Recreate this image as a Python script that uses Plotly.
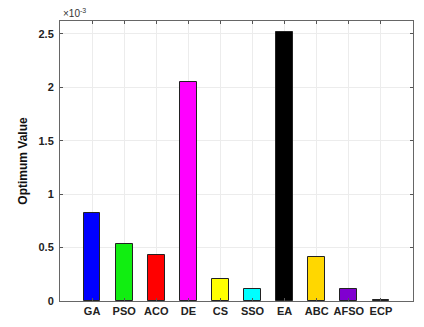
import plotly.graph_objects as go

categories = ["GA", "PSO", "ACO", "DE", "CS", "SSO", "EA", "ABC", "AFSO", "ECP"]
values = [0.82e-3, 0.53e-3, 0.43e-3, 2.05e-3, 0.21e-3, 0.11e-3, 2.52e-3, 0.41e-3, 0.11e-3, 0.01e-3]
colors = ["#0000ff", "#11ee11", "#ff0000", "#ff00ff", "#ffff00", "#00ffff", "#000000", "#ffd700", "#8000d0", "#202020"]
ytick_vals = [0, 0.5e-3, 1.0e-3, 1.5e-3, 2.0e-3, 2.5e-3]
ytick_text = ["0", "0.5", "1", "1.5", "2", "2.5"]

xpos = list(range(1, len(categories) + 1))

fig = go.Figure()
fig.add_trace(go.Bar(
    x=xpos, y=values, width=0.52,
    marker=dict(color=colors, line=dict(color="#222222", width=1)),
))

font_b = dict(family="Liberation Sans, Arial, sans-serif", size=11, color="#222222")

fig.update_layout(
    width=424, height=327,
    margin=dict(l=60, r=10, t=21, b=24),
    paper_bgcolor="white", plot_bgcolor="white",
    showlegend=False,
    bargap=0,
    xaxis=dict(
        range=[0, 11], tickvals=xpos, ticktext=["<b>%s</b>" % c for c in categories],
        tickfont=font_b, ticks="inside", ticklen=3, tickcolor="#555555",
        showline=True, linecolor="#666666", linewidth=1, mirror="allticks",
        showgrid=True, gridcolor="#ececec", zeroline=False,
    ),
    yaxis=dict(
        range=[0, 2.62e-3], tickvals=ytick_vals, ticktext=["<b>%s</b>" % t for t in ytick_text],
        tickfont=font_b, ticks="inside", ticklen=3, tickcolor="#555555",
        showline=True, linecolor="#666666", linewidth=1, mirror="allticks",
        showgrid=True, gridcolor="#ececec", zeroline=False,
        ticklabelstandoff=3,
        title=dict(text="<b>Optimum Value</b>", font=dict(family="Liberation Sans, Arial, sans-serif", size=12, color="#111111"), standoff=8),
    ),
    annotations=[dict(
        text="×10<sup>-3</sup>", x=0, y=1, xref="paper", yref="paper",
        xanchor="left", yanchor="bottom", showarrow=False, yshift=0, xshift=1,
        font=dict(family="Liberation Sans, Arial, sans-serif", size=10, color="#333333"),
    )],
)

fig.write_html("out.html")
